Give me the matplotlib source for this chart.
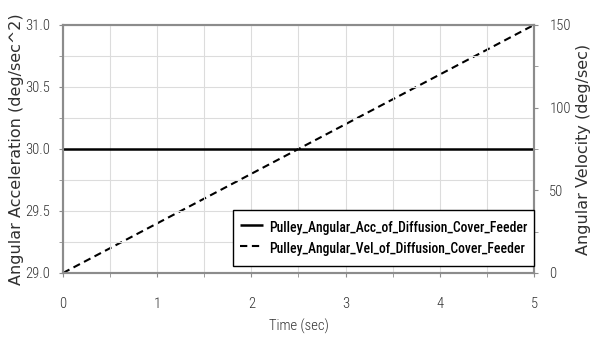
import matplotlib
matplotlib.use("Agg")
import matplotlib.pyplot as plt
from matplotlib.ticker import MultipleLocator

time_sec = [0.0, 1.0, 2.0, 3.0, 4.0, 5.0]
angular_acc = [30.0, 30.0, 30.0, 30.0, 30.0, 30.0]
angular_vel = [0.0, 30.0, 60.0, 90.0, 120.0, 150.0]

acc_ticks = [29.0, 29.5, 30.0, 30.5, 31.0]
acc_tick_labels = ["29.0", "29.5", "30.0", "30.5", "31.0"]
vel_ticks = [0, 50, 100, 150]
time_ticks = [0, 1, 2, 3, 4, 5]

NARROW = ["Roboto Condensed", "DejaVu Sans"]
WIDE = ["DejaVu Sans"]
GRID = "#dcdcdc"
FRAME = "#8c8c8c"
TEXT = "#303030"

fig = plt.figure(figsize=(5.92, 3.37), dpi=100)
ax = fig.add_axes([0.1064, 0.19, 0.7956, 0.736])
ax2 = ax.twinx()

l1, = ax.plot(time_sec, angular_acc, color="black", lw=1.8, solid_capstyle="butt")
l2, = ax2.plot(time_sec, angular_vel, color="black", lw=1.5, linestyle=(0, (3.5, 2.2)))

ax.set_xlim(0, 5)
ax.set_ylim(29.0, 31.0)
ax2.set_ylim(0, 150)

ax.set_xticks(time_ticks)
ax.set_xticklabels([str(t) for t in time_ticks], family=NARROW, fontsize=10.5, weight=300)
ax.xaxis.set_minor_locator(MultipleLocator(0.5))
ax.set_yticks(acc_ticks)
ax.set_yticklabels(acc_tick_labels, family=NARROW, fontsize=10.5, weight=300)
ax.yaxis.set_minor_locator(MultipleLocator(0.25))
ax2.set_yticks(vel_ticks)
ax2.set_yticklabels([str(v) for v in vel_ticks], family=NARROW, fontsize=10.5, weight=300)
ax2.yaxis.set_minor_locator(MultipleLocator(25))

ax.grid(True, which="both", color=GRID, lw=0.8)
ax.set_axisbelow(True)

ax.tick_params(axis="x", which="both", length=3, color=FRAME, pad=14, labelcolor=TEXT)
ax.tick_params(axis="y", which="both", length=3, color=FRAME, pad=6, labelcolor=TEXT)
ax2.tick_params(axis="y", which="both", length=3, color=FRAME, pad=8, labelcolor=TEXT)

for a in (ax, ax2):
    for s in a.spines.values():
        s.set_color(FRAME)
        s.set_linewidth(1.5)

ax.set_xlabel("Time (sec)", family=NARROW, fontsize=10.5, weight=300, labelpad=6, color=TEXT)
ax.set_ylabel("Angular Acceleration (deg/sec^2)", family=WIDE, fontsize=11.5, color=TEXT)
ax2.set_ylabel("Angular Velocity (deg/sec)", family=WIDE, fontsize=11.5, color=TEXT)
# pin the axis titles where the reference has them (pixels 24 and 576)
ax.yaxis.set_label_coords(-0.083, 0.5)
ax2.yaxis.set_label_coords(1.09, 0.5)

leg = ax.legend(
    [l1, l2],
    ["Pulley_Angular_Acc_of_Diffusion_Cover_Feeder", "Pulley_Angular_Vel_of_Diffusion_Cover_Feeder"],
    loc="lower right",
    bbox_to_anchor=(1.0, 0.028),
    prop={"family": NARROW, "size": 9.8, "weight": 500},
    frameon=True,
    fancybox=False,
    edgecolor="black",
    framealpha=1.0,
    handlelength=1.65,
    handleheight=2.0,
    handletextpad=0.45,
    labelspacing=0.0,
    borderpad=0.5,
    borderaxespad=0.0,
)
leg.get_frame().set_linewidth(1.0)
ax.set_zorder(2)
ax.patch.set_visible(False)

fig.savefig("out.png", dpi=100, facecolor="white")
